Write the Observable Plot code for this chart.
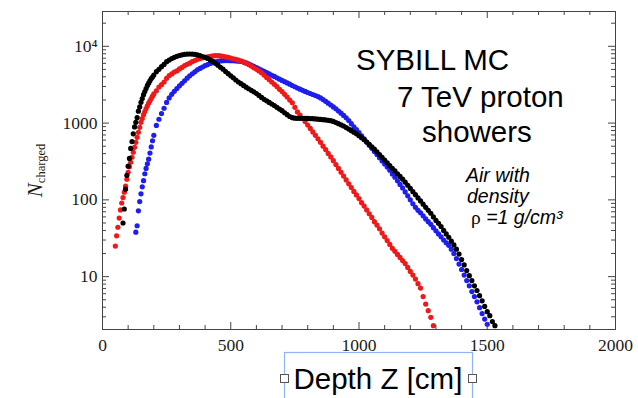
<!DOCTYPE html>
<html><head><meta charset="utf-8">
<script src="https://cdn.jsdelivr.net/npm/d3@7"></script>
<script src="https://cdn.jsdelivr.net/npm/@observablehq/plot@0.6"></script>
<style>
html,body{margin:0;padding:0;background:#fff;}
#chart{width:638px;height:398px;position:relative;}
</style></head><body><div id="chart"></div>
<script>
// Shared depth grid (cm)
const depth = [
  50,55,60,65,70,75,80,85,90,95,
  100,105,110,115,120,125,130,135,140,145,
  150,155,160,165,170,175,180,185,190,195,
  200,210,220,230,240,250,260,270,280,290,
  300,310,320,330,340,350,360,370,380,390,
  400,410,420,430,440,450,460,470,480,490,
  500,510,520,530,540,550,560,570,580,590,
  600,610,620,630,640,650,660,670,680,690,
  700,710,720,730,740,750,760,770,780,790,
  800,810,820,830,840,850,860,870,880,890,
  900,910,920,930,940,950,960,970,980,990,
  1000,1010,1020,1030,1040,1050,1060,1070,1080,1090,
  1100,1110,1120,1130,1140,1150,1160,1170,1180,1190,
  1200,1210,1220,1230,1240,1250,1260,1270,1280,1290,
  1300,1310,1320,1330,1340,1350,1360,1370,1380,1390,
  1400,1410,1420,1430,1440,1450,1460,1470,1480,1490,
  1500,1510,1520,1530
];
const redN = [
  25,34,44,58,74,91,107,126,151,186,
  229,269,309,359,417,484,562,653,759,881,
  1023,1148,1288,1413,1549,1679,1820,1950,2089,2239,
  2399,2630,2951,3162,3428,3825,4169,4365,4624,4786,
  5070,5309,5623,5821,6026,6310,6531,6761,6918,7079,
  7194,7295,7413,7499,7551,7540,7499,7413,7278,7161,
  7031,6887,6761,6607,6457,6237,6026,5781,5521,5248,
  5012,4786,4519,4217,3936,3673,3428,3199,2985,2754,
  2570,2371,2188,1995,1841,1605,1396,1274,1148,1047,
  944,851,767,692,624,562,501,452,403,363,
  324,288,257,229,204,182,162,145,129,116,
  104,92,83,74,66,59,52,47,42,37,
  33,29.5,26.3,23.4,21.4,19.5,17.8,16.2,14.8,13.2,
  11.7,10.5,9.3,8.1,7.1,5.5,4.4,3.6,2.95,2.3,
  null,null,null,null,null,null,null,null,null,null,
  null,null,null,null,null,null,null,null,null,null,
  null,null,null,null
];
const blueN = [
  null,null,null,null,null,null,null,null,null,null,
  null,null,null,null,null,null,38,46,72,95,
  120,148,178,219,257,295,339,407,490,589,
  692,933,1122,1330,1560,1860,2130,2370,2590,2820,
  3060,3300,3560,3850,4130,4390,4650,4940,5150,5380,
  5610,5790,5970,6140,6290,6390,6450,6497,6516,6516,
  6501,6486,6457,6410,6345,6223,6078,5898,5698,5487,
  5292,5094,4917,4720,4543,4365,4200,4047,3881,3732,
  3594,3465,3336,3210,3086,2972,2865,2764,2668,2582,
  2502,2428,2356,2286,2213,2126,2026,1923,1818,1719,
  1622,1532,1437,1346,1260,1170,1081,983,894,823,
  750,684,622,566,515,469,428,390,354,322,
  294,267,243,218,197,177,159,143,127,113,
  100,89,80,73,68,62,56.5,52,48,43.5,
  39.5,36,33,30,27.6,25.6,22.8,19.9,17.2,14.6,
  12.4,10.5,8.9,7.6,6.4,5.5,4.7,3.95,3.3,2.8,
  2.4,null,null,null
];
const blackN = [
  null,null,null,null,null,null,50,76,138,209,
  275,347,468,575,724,891,1023,1175,1429,1622,
  1862,2089,2344,2570,2818,3090,3311,3548,3802,3981,
  4217,4677,5012,5433,5800,6310,6610,6915,7180,7400,
  7590,7745,7870,7930,7943,7920,7855,7755,7580,7370,
  7155,6950,6655,6350,6000,5680,5335,5030,4690,4400,
  4121,3885,3640,3430,3260,3096,2935,2800,2672,2550,
  2430,2290,2158,2041,1947,1858,1773,1690,1603,1522,
  1451,1363,1286,1219,1176,1158,1155,1153,1153,1153,
  1150,1145,1140,1134,1125,1116,1107,1098,1087,1075,
  1052,1018,983,949,916,875,835,796,760,725,
  684,645,608,567,528,491,458,422,389,358,
  330,304,279,258,238,219,202,186,170,155,
  141,128,117,106,97,88,80,73,67,60,
  54,49.5,45,40,36,32.6,29,25.9,22.8,19.7,
  16.7,14.2,12,10.3,8.9,7.6,6.6,5.65,4.85,4.1,
  3.5,3.1,2.6,2.3
];
const xMajor = [0,500,1000,1500,2000];
const xMinor = [100,200,300,400,600,700,800,900,1100,1200,1300,1400,1600,1700,1800,1900];
const yMajor = [10,100,1000,10000];
const yTickLabels = ["10","100","1000","10⁴"];
const yMinor = [3,4,5,6,7,8,9,20,30,40,50,60,70,80,90,200,300,400,500,600,700,800,900,
  2000,3000,4000,5000,6000,7000,8000,9000,20000];

const seriesRows = (vals) => depth.map((z,i) => ({z, n: vals[i]})).filter(d => d.n != null);
const yLabel = new Map(yMajor.map((v,i) => [v, yTickLabels[i]]));

const W = 638, H = 398, mL = 102, mR = 23, mT = 11, mB = 69;
const fw = W - mL - mR, fh = H - mT - mB;
const majLen = 7, minLen = 4, axisColor = "#444";

const plot = Plot.plot({
  width: W, height: H,
  marginLeft: mL, marginRight: mR, marginTop: mT, marginBottom: mB,
  style: {fontFamily: "'Liberation Serif', 'Times New Roman', serif", fontSize: "17.5px", color: "#1a1a1a", background: "#fff"},
  x: {domain: [0, 2000]},
  y: {type: "log", domain: [2.05, 28400]},
  marks: [
    Plot.dot(seriesRows(blueN), {x: "z", y: "n", r: 2.6, fill: "#1e1ef0", clip: true}),
    Plot.dot(seriesRows(redN), {x: "z", y: "n", r: 2.6, fill: "#f01818", clip: true}),
    Plot.dot(seriesRows(blackN), {x: "z", y: "n", r: 2.6, fill: "#000", clip: true}),
    Plot.tickX(xMajor, {x: d => d, insetTop: fh - majLen, stroke: axisColor}),
    Plot.tickX(xMajor, {x: d => d, insetBottom: fh - majLen, stroke: axisColor}),
    Plot.tickX(xMinor, {x: d => d, insetTop: fh - minLen, stroke: axisColor}),
    Plot.tickX(xMinor, {x: d => d, insetBottom: fh - minLen, stroke: axisColor}),
    Plot.tickY(yMajor, {y: d => d, insetRight: fw - majLen, stroke: axisColor}),
    Plot.tickY(yMajor, {y: d => d, insetLeft: fw - majLen, stroke: axisColor}),
    Plot.tickY(yMinor, {y: d => d, insetRight: fw - minLen, stroke: axisColor}),
    Plot.tickY(yMinor, {y: d => d, insetLeft: fw - minLen, stroke: axisColor}),
    Plot.frame({stroke: axisColor}),
    Plot.axisX({ticks: xMajor, tickSize: 0, tickPadding: 9, label: null, tickFormat: d => String(d)}),
    Plot.axisY({ticks: yMajor, tickSize: 0, tickPadding: 5, label: null, tickFormat: d => yLabel.get(d)})
  ]
});
document.getElementById("chart").appendChild(plot);

const svg = d3.select(plot);
// y-axis title N_charged
const yt = svg.append("text")
  .attr("transform", "translate(42,170.5) rotate(-90)")
  .attr("text-anchor", "middle")
  .attr("font-family", "'Liberation Serif', serif")
  .attr("fill", "#1a1a1a");
yt.append("tspan").attr("font-style", "italic").attr("font-size", 21).text("N");
yt.append("tspan").attr("font-size", 12.5).attr("dy", 3).text("charged");

const sans = "'Liberation Sans', Arial, Helvetica, sans-serif";
const big = [
  {t: "SYBILL MC", x: 356, y: 69.5},
  {t: "7 TeV proton", x: 397, y: 107},
  {t: "showers", x: 422, y: 141.5}
];
big.forEach(d => svg.append("text").attr("x", d.x).attr("y", d.y).attr("text-anchor", "start")
  .attr("font-family", sans).attr("font-size", 29.5).attr("fill", "#000").text(d.t));

const small = [
  {t: "Air with", x: 466, y: 181.5},
  {t: "density", x: 467, y: 203}
];
small.forEach(d => svg.append("text").attr("x", d.x).attr("y", d.y).attr("text-anchor", "start")
  .attr("font-family", sans).attr("font-style", "italic").attr("font-size", 19.5).attr("fill", "#000").text(d.t));
const rho = svg.append("text").attr("x", 471).attr("y", 224).attr("text-anchor", "start")
  .attr("font-size", 19.5).attr("fill", "#000");
rho.append("tspan").attr("font-family", "'Liberation Serif', serif").text("ρ");
rho.append("tspan").attr("font-family", sans).attr("font-style", "italic").text(" =1 g/cm³");

// x-axis title in a selection box
svg.append("rect").attr("x", 284.5).attr("y", 352.5).attr("width", 188).attr("height", 60)
  .attr("fill", "none").attr("stroke", "#8fb3f4").attr("stroke-width", 1.2);
svg.append("text").attr("x", 293.5).attr("y", 388.5).attr("text-anchor", "start")
  .attr("font-family", sans).attr("font-size", 29.5).attr("fill", "#000").text("Depth Z [cm]");
[280.5, 468.5].forEach(hx => svg.append("rect").attr("x", hx).attr("y", 374.5)
  .attr("width", 8).attr("height", 8).attr("fill", "#fff").attr("stroke", "#555").attr("stroke-width", 1));
</script>
</body></html>
